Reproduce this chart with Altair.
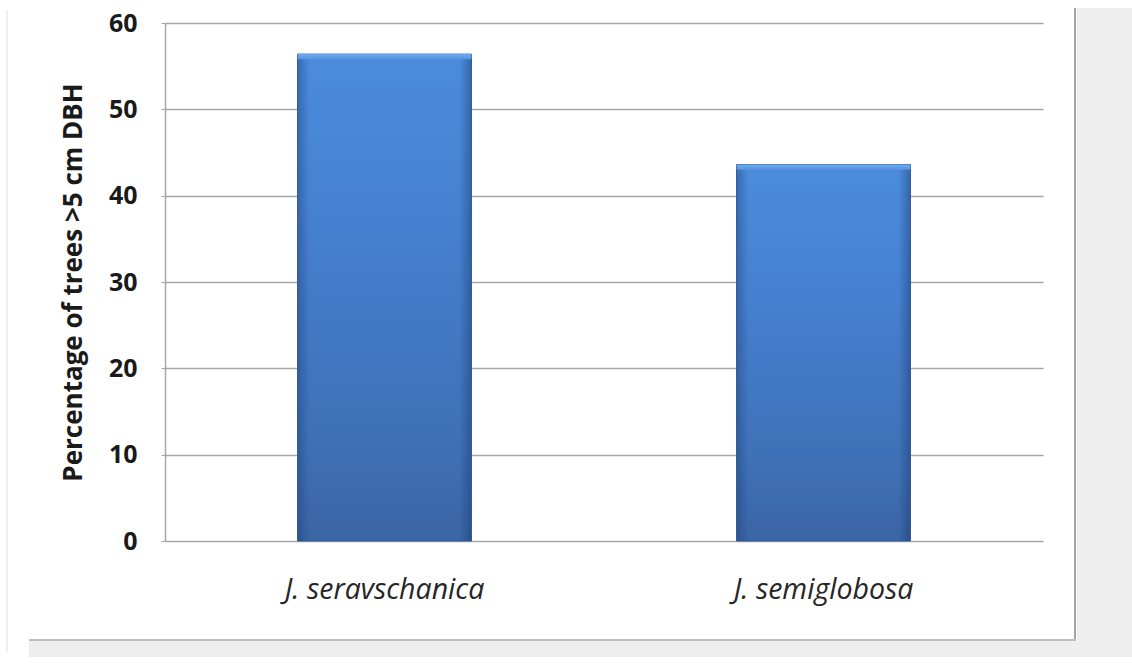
import altair as alt
import pandas as pd

# Share of trees above 5 cm diameter at breast height, by juniper species
species = ["J. seravschanica", "J. semiglobosa"]
percent = [56.4, 43.6]

df = pd.DataFrame({"species": species, "percent": percent})
df["cap_low"] = df["percent"] - 0.6

W, H = 878, 518
FONT = "Open Sans"

x_enc = alt.X(
    "species:N",
    sort=species,
    scale=alt.Scale(paddingInner=0.604, paddingOuter=0.302),
    axis=alt.Axis(
        title=None, labelAngle=0, labelFont=FONT, labelFontSize=28.5,
        labelFontStyle="italic", labelColor="#262626", labelPadding=34,
        labelLimit=0, ticks=False, domain=False, grid=False,
    ),
)
y_scale = alt.Scale(domain=[0, 60], nice=False)
y_axis = alt.Axis(
    title="Percentage of trees >5 cm DBH", titleFont=FONT, titleFontSize=26,
    titleFontWeight="bold", titleColor="#1a1a1a", titlePadding=22,
    values=[0, 10, 20, 30, 40, 50, 60], labelFont=FONT, labelFontSize=25,
    labelFontWeight="bold", labelColor="#1a1a1a", labelPadding=24,
    tickSize=4, tickColor="#a6a6a6", domainColor="#a6a6a6", domainWidth=1.5,
    gridColor="#a6a6a6", gridWidth=1.5,
)

base = alt.Chart(df)

# page background panels and frame lines (pixel offsets from the plot origin)
frame_bg = pd.DataFrame({"k": [0]})
grey_right = alt.Chart(frame_bg).mark_rect(color="#eeeeee").encode(
    x=alt.value(1077 - 165), x2=alt.value(1132 - 165),
    y=alt.value(8 - 23), y2=alt.value(657 - 23))
grey_bottom = alt.Chart(frame_bg).mark_rect(color="#eeeeee").encode(
    x=alt.value(29 - 165), x2=alt.value(1077 - 165),
    y=alt.value(641 - 23), y2=alt.value(657 - 23))
line_right = alt.Chart(frame_bg).mark_rule(color="#a3a3a3", strokeWidth=2).encode(
    x=alt.value(1075 - 165), y=alt.value(8 - 23), y2=alt.value(641 - 23))
line_bottom = alt.Chart(frame_bg).mark_rule(color="#bdbdbd", strokeWidth=2).encode(
    x=alt.value(29 - 165), x2=alt.value(1076 - 165), y=alt.value(640 - 23))
line_left = alt.Chart(frame_bg).mark_rule(color="#e0e0e0", strokeWidth=1).encode(
    x=alt.value(7 - 165), y=alt.value(10 - 23), y2=alt.value(652 - 23))

bars = base.mark_bar(
    color=alt.Gradient(
        gradient="linear", x1=0, y1=0, x2=0, y2=1,
        stops=[alt.GradientStop(color="#4b8cdc", offset=0),
               alt.GradientStop(color="#4680d0", offset=0.35),
               alt.GradientStop(color="#3f70b6", offset=0.8),
               alt.GradientStop(color="#3a65a6", offset=1)],
    ),
    stroke="#345f9c", strokeWidth=1,
).encode(x=x_enc, y=alt.Y("percent:Q", scale=y_scale, axis=y_axis))

# darker side edges for a bevelled look
edges = base.mark_bar(
    color=alt.Gradient(
        gradient="linear", x1=0, y1=0, x2=1, y2=0,
        stops=[alt.GradientStop(color="rgba(20,50,100,0.35)", offset=0),
               alt.GradientStop(color="rgba(20,50,100,0.0)", offset=0.07),
               alt.GradientStop(color="rgba(20,50,100,0.0)", offset=0.93),
               alt.GradientStop(color="rgba(20,50,100,0.4)", offset=1)],
    ),
).encode(x=x_enc, y=alt.Y("percent:Q", scale=y_scale))

# lighter cap along the top of each bar
caps = base.mark_bar(
    color=alt.Gradient(
        gradient="linear", x1=0, y1=0, x2=0, y2=1,
        stops=[alt.GradientStop(color="#6fa9ec", offset=0),
               alt.GradientStop(color="#5594e0", offset=1)],
    ),
).encode(x=x_enc, y=alt.Y("percent:Q", scale=y_scale), y2="cap_low:Q")

chart = alt.layer(
    grey_right, grey_bottom, line_right, line_bottom, line_left,
    bars, edges, caps,
).properties(
    width=W, height=H,
    autosize=alt.AutoSizeParams(type="none"),
    padding={"left": 165, "top": 23, "right": 1132 - 165 - W, "bottom": 671 - 23 - H},
    background="white",
).configure_view(stroke=None)

chart.save("out.html", embed_options={"renderer": "svg", "actions": False})
